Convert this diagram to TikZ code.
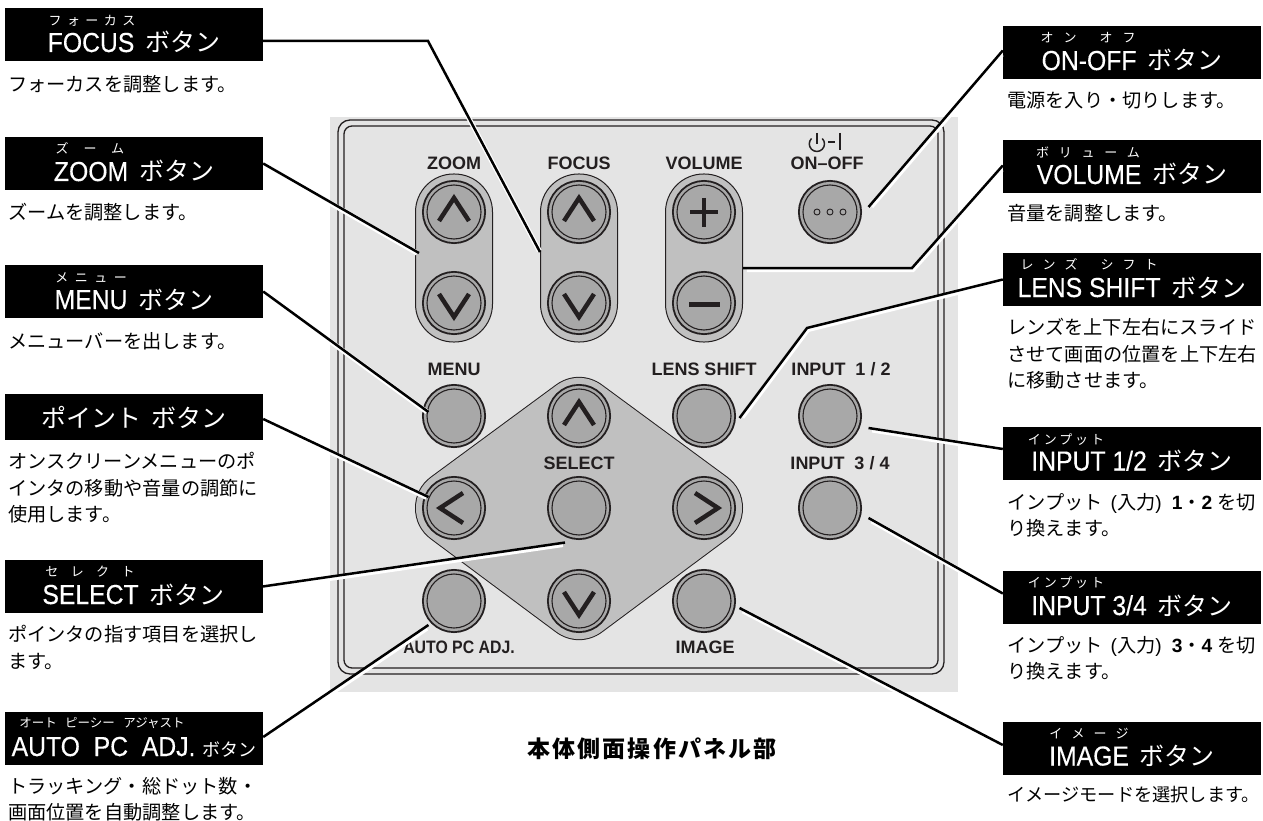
\documentclass[tikz,border=0pt]{standalone}
\usepackage{fontspec}
\setmainfont{Liberation Sans}
\newfontfamily\titlefont[FakeStretch=0.9, FakeBold=0.3]{Liberation Sans}
\newfontfamily\cjk{Noto Sans CJK JP}
\usetikzlibrary{positioning, calc}
\definecolor{panelgray}{RGB}{228, 228, 228}
\definecolor{padgray}{RGB}{192, 192, 192}
\definecolor{keygray}{RGB}{168, 168, 168}
\definecolor{inkdark}{RGB}{35, 31, 32}
\tikzset{
  titlebox/.style={fill=black, text=white, inner sep=0pt, minimum width=258pt,
    text height=44pt, text depth=9pt, font=\titlefont\fontsize{27.5}{27.5}\selectfont},
  rubytext/.style={text=white, inner sep=0pt, font=\cjk\fontsize{13}{13}\selectfont},
  desctext/.style={anchor=north west, inner sep=0pt, align=left,
    font=\cjk\fontsize{19.2}{26.5}\selectfont},
  keylabel/.style={text=inkdark, inner sep=0pt, font=\bfseries\fontsize{18}{18}\selectfont},
  keybtn/.style={circle, draw=inkdark, line width=1.1pt, fill=keygray, minimum size=54pt, inner sep=0pt,
    preaction={draw=inkdark, line width=10pt},
    preaction={draw=keygray, line width=6.2pt}},
  keypad/.style={rectangle, draw=inkdark, line width=1pt, fill=padgray, rounded corners=38pt,
    minimum width=77pt, minimum height=168pt, inner sep=0pt},
  glyph/.style={draw=inkdark, line width=4.5pt, line join=miter},
  leader/.style={draw=black, line width=2.5pt, line join=miter,
    preaction={draw=white, line width=5pt, shorten <=3pt, shorten >=3pt,
      transform canvas={shift={(0.8,1.6)}}}}
}
\newcommand{\jb}{\hspace{4pt}{\cjk\fontsize{25}{25}\selectfont ボタン}}
\newcommand{\spaced}[1]{\addfontfeature{LetterSpace=#1}}
\begin{document}
\begin{tikzpicture}[x=1pt, y=-1pt]
  \useasboundingbox (0,0) rectangle (1263,821);

  % Panel and its double frame
  \fill[panelgray] (330,117) rectangle (958,692);
  \draw[inkdark, line width=1.3pt, rounded corners=12pt] (338,120) rectangle (944,674);
  \draw[inkdark, line width=1.3pt, rounded corners=8pt] (344,126) rectangle (938,668);

  % Pads behind the keys
  \node[keypad] (zoompad) at (454,258) {};
  \node[keypad] (focuspad) at (579,258) {};
  \node[keypad] (volumepad) at (704,258) {};
  \coordinate (padleft) at (454,508);
  \coordinate (padtop) at (579,416);
  \coordinate (padright) at (704,508);
  \coordinate (padbottom) at (579,601);
  \draw[inkdark, line width=78pt, line join=round] (padleft) -- (padtop) -- (padright) -- (padbottom) -- cycle;
  \filldraw[padgray, line width=76pt, line join=round] (padleft) -- (padtop) -- (padright) -- (padbottom) -- cycle;

  % Keys
  \node[keybtn] (zoomup) at (454,212) {};
  \node[keybtn] (zoomdown) at (454,303) {};
  \node[keybtn] (focusup) at (579,212) {};
  \node[keybtn] (focusdown) at (579,303) {};
  \node[keybtn] (volumeup) at (704,212) {};
  \node[keybtn] (volumedown) at (704,303) {};
  \node[keybtn] (onoffkey) at (830,212) {};
  \node[keybtn] (menukey) at (454,416) {};
  \node[keybtn] (selectup) at (padtop) {};
  \node[keybtn] (lenskey) at (704,416) {};
  \node[keybtn] (input12key) at (830,416) {};
  \node[keybtn] (pointleft) at (padleft) {};
  \node[keybtn] (selectkey) at (579,508) {};
  \node[keybtn] (pointright) at (padright) {};
  \node[keybtn] (input34key) at (830,508) {};
  \node[keybtn] (autokey) at (454,601) {};
  \node[keybtn] (selectdown) at (padbottom) {};
  \node[keybtn] (imagekey) at (704,601) {};

  % Key glyphs
  \foreach \k/\r in {zoomup/0, focusup/0, selectup/0, zoomdown/180, focusdown/180, selectdown/180, pointleft/90, pointright/-90}{
    \draw[glyph, shift={(\k)}, rotate=\r] (-15,9) -- (0,-14) -- (15,9);
  }
  \draw[glyph] (690,212) -- (718,212);
  \draw[glyph] (704,198) -- (704,227);
  \draw[glyph, line width=5pt] (689,304) -- (720,304);
  \foreach \x in {817, 830, 843}{
    \draw[inkdark, line width=0.9pt] (\x,212) circle (3);
  }

  % Power mark
  \draw[inkdark, line width=1.5pt] (811.5,138.5) arc[start angle=-135, end angle=-405, radius=7.6];
  \draw[inkdark, line width=1.5pt] (817,133) -- (817,144);
  \draw[inkdark, line width=1.5pt] (828,142) -- (835,142);
  \draw[inkdark, line width=1.8pt] (840,133) -- (840,150);

  % Key labels
  \node[keylabel] (zoomlabel) at (454,163) {ZOOM};
  \node[keylabel] (focuslabel) at (579,163) {FOCUS};
  \node[keylabel] (volumelabel) at (704,163) {VOLUME};
  \node[keylabel] (onofflabel) at (827,163) {ON–OFF};
  \node[keylabel] (menulabel) at (454,369) {MENU};
  \node[keylabel] (lenslabel) at (704,369) {LENS SHIFT};
  \node[keylabel] (input12label) at (841,369) {INPUT\ \ 1 / 2};
  \node[keylabel] (selectlabel) at (579,463) {SELECT};
  \node[keylabel] (input34label) at (840,463) {INPUT\ \ 3 / 4};
  \node[keylabel, xscale=0.88] (autolabel) at (459,647) {AUTO PC ADJ.};
  \node[keylabel] (imagelabel) at (705,647) {IMAGE};
  \node[inner sep=0pt, font=\cjk\bfseries\fontsize{23}{23}\selectfont] (paneltitle) at (652,749) {\spaced{9}本体側面操作パネル部};

  % Left column
  \node[titlebox] (focusbox) at (134,34.5) {FOCUS \jb};
  \node[rubytext] (focusruby) at (92,21) {\spaced{42}フォーカス};
  \node[desctext] (focusdesc) at (8,75) {フォーカスを調整します。};
  \node[titlebox] (zoombox) at (134,163.5) {ZOOM \jb};
  \node[rubytext] (zoomruby) at (90,148) {\spaced{115}ズーム};
  \node[desctext] (zoomdesc) at (8,203) {ズームを調整します。};
  \node[titlebox] (menubox) at (134,291.5) {MENU \jb};
  \node[rubytext] (menuruby) at (91,278) {\spaced{50}メニュー};
  \node[desctext] (menudesc) at (8,332) {メニューバーを出します。};
  \node[titlebox, text height=33pt, text depth=13pt] (pointbox) at (134,417) {{\cjk\fontsize{25}{25}\selectfont ポイント} \jb};
  \node[desctext] (pointdesc) at (8,452) {オンスクリーンメニューのポ\\インタの移動や音量の調節に\\使用します。};
  \node[titlebox] (selectbox) at (133.5,586.5) {SELECT \jb};
  \node[rubytext] (selectruby) at (90,572) {\spaced{95}セレクト};
  \node[desctext] (selectdesc) at (8,625) {ポインタの指す項目を選択し\\ます。};
  \node[titlebox] (autobox) at (134,738.5) {AUTO\ \ PC\ \ ADJ. {\cjk\fontsize{18}{18}\selectfont ボタン}};
  \node[rubytext, font=\cjk\fontsize{12.5}{12.5}\selectfont] (autoruby) at (102,723) {オート\ \ \ ピーシー\ \ \ アジャスト};
  \node[desctext] (autodesc) at (8,777) {トラッキング・総ドット数・\\画面位置を自動調整します。};

  % Right column
  \node[titlebox] (onoffbox) at (1132,52.5) {ON-OFF \jb};
  \node[rubytext] (onoffruby) at (1088,38) {オ\hspace{10pt}ン\hspace{23pt}オ\hspace{10pt}フ};
  \node[desctext] (onoffdesc) at (1007,91) {電源を入り・切りします。};
  \node[titlebox] (volumebox) at (1132,166.5) {VOLUME \jb};
  \node[rubytext] (volumeruby) at (1088,152) {\spaced{75}ボリューム};
  \node[desctext] (volumedesc) at (1007,204) {音量を調整します。};
  \node[titlebox] (lensbox) at (1132,279.5) {LENS SHIFT \jb};
  \node[rubytext] (lensruby) at (1089,264) {レ\hspace{9pt}ン\hspace{9pt}ズ\hspace{23pt}シ\hspace{9pt}フ\hspace{9pt}ト};
  \node[desctext] (lensdesc) at (1007,318) {レンズを上下左右にスライド\\させて画面の位置を上下左右\\に移動させます。};
  \node[titlebox] (input12box) at (1132,453) {INPUT 1/2 \jb};
  \node[rubytext] (input12ruby) at (1066,440) {\spaced{22}インプット};
  \node[desctext] (input12desc) at (1007,493) {インプット\hspace{8pt}{\rmfamily (}入力{\rmfamily )}\hspace{10pt}{\rmfamily\bfseries 1}・{\rmfamily\bfseries 2}\hspace{5pt}を切\\り換えます。};
  \node[titlebox] (input34box) at (1132,597.5) {INPUT 3/4 \jb};
  \node[rubytext] (input34ruby) at (1066,583) {\spaced{22}インプット};
  \node[desctext] (input34desc) at (1007,636) {インプット\hspace{8pt}{\rmfamily (}入力{\rmfamily )}\hspace{10pt}{\rmfamily\bfseries 3}・{\rmfamily\bfseries 4}\hspace{5pt}を切\\り換えます。};
  \node[titlebox] (imagebox) at (1132,748) {IMAGE \jb};
  \node[rubytext] (imageruby) at (1089,734) {\spaced{70}イメージ};
  \node[desctext, font=\cjk\fontsize{18.2}{26.5}\selectfont] (imagedesc) at (1007,786) {イメージモードを選択します。};

  % Leaders
  \coordinate (focusbend) at (428,41);
  \coordinate (volumebend) at (912,268);
  \coordinate (lensbend) at (807,328);
  \draw[leader] (focusbox.east |- focusbend) -- (focusbend) -- ([yshift=6pt]focuspad.west);
  \draw[leader] (zoombox.east) -- ([shift={(4,-5)}]zoompad.west);
  \draw[leader] (menubox.east) -- ([shift={(2,-4)}]menukey.west);
  \draw[leader] ([yshift=-2pt]pointbox.east) -- ([shift={(2,-11)}]pointleft.west);
  \draw[leader] (selectbox.east) -- ([shift={(-14,7)}]selectkey.south);
  \draw[leader] ([yshift=1.5pt]autobox.east) -- ([shift={(2,24)}]autokey.west);
  \draw[leader] ([yshift=2pt]onoffbox.west) -- ([shift={(11,-5)}]onoffkey.east);
  \draw[leader] ([yshift=1pt]volumebox.west) -- (volumebend) -- (volumebend -| volumepad.east);
  \draw[leader] (lensbox.west) -- (lensbend) -- ([shift={(8,2)}]lenskey.east);
  \draw[leader] ([yshift=4pt]input12box.west) -- ([shift={(11,12)}]input12key.east);
  \draw[leader] ([yshift=4pt]input34box.west) -- ([shift={(11,10)}]input34key.east);
  \draw[leader] ([yshift=3pt]imagebox.west) -- ([shift={(8,7)}]imagekey.east);
\end{tikzpicture}
\end{document}
